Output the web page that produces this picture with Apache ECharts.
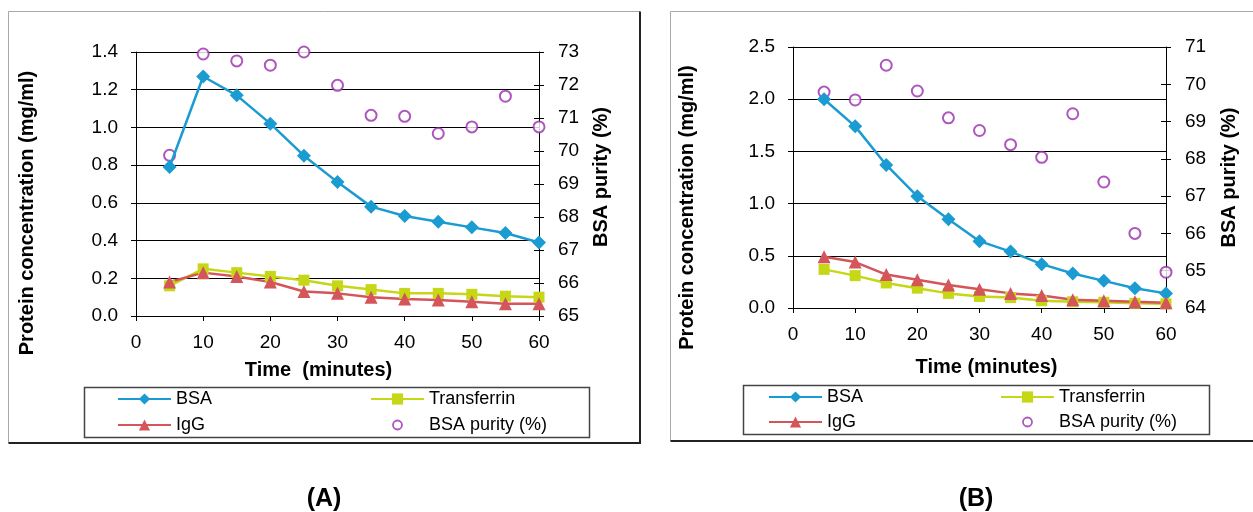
<!DOCTYPE html>
<html>
<head>
<meta charset="utf-8">
<script src="https://cdn.jsdelivr.net/npm/echarts@6/dist/echarts.min.js"></script>
<style>
  html, body { margin: 0; padding: 0; background: #fff; }
  #chart { width: 1253px; height: 512px; }
</style>
</head>
<body>
<div id="chart"></div>
<script>
// sampling times (minutes)
const times = [5, 10, 15, 20, 25, 30, 35, 40, 45, 50, 55, 60];

// panel A
const bsaA = [0.79, 1.27, 1.17, 1.02, 0.85, 0.71, 0.58, 0.53, 0.50, 0.47, 0.44, 0.39];
const transferrinA = [0.16, 0.25, 0.23, 0.21, 0.19, 0.16, 0.14, 0.12, 0.12, 0.115, 0.105, 0.10];
const iggA = [0.18, 0.23, 0.21, 0.18, 0.13, 0.12, 0.10, 0.09, 0.085, 0.075, 0.065, 0.065];
const purityA = [69.87, 72.94, 72.73, 72.6, 73.0, 71.99, 71.08, 71.05, 70.53, 70.73, 71.66, 70.73];

// panel B
const bsaB = [2.0, 1.74, 1.37, 1.07, 0.85, 0.64, 0.54, 0.42, 0.33, 0.26, 0.19, 0.14];
const transferrinB = [0.37, 0.31, 0.24, 0.19, 0.14, 0.11, 0.10, 0.07, 0.06, 0.055, 0.045, 0.04];
const iggB = [0.49, 0.44, 0.32, 0.27, 0.22, 0.18, 0.14, 0.12, 0.08, 0.07, 0.06, 0.05];
const purityB = [69.79, 69.58, 70.51, 69.82, 69.1, 68.76, 68.38, 68.04, 69.21, 67.38, 66.0, 64.96];

const FONT = '"Liberation Sans", Arial, sans-serif';
const COLORS = { bsa: '#1a9bd1', transferrin: '#c5d715', igg: '#d4555a', purity: '#9a2cae' };
// small ring inside an empty 14x14 box, so the legend marker stays small
const SMALL_RING = 'path://M0,0L0,0M14,14L14,14M11.5,7A4.5,4.5,0,1,1,2.5,7A4.5,4.5,0,1,1,11.5,7Z';

const pairs = (ys) => times.map((t, i) => [t, ys[i]]);

function xAxis(grid, title, pad) {
  return {
    type: 'value', gridIndex: grid, min: 0, max: 60, interval: 10,
    name: title, nameLocation: 'middle', nameGap: grid === 0 ? 44 : 49,
    nameTextStyle: { fontFamily: FONT, fontSize: 20, fontWeight: 'bold', color: '#000', padding: pad },
    axisLine: { onZero: false, lineStyle: { color: '#000', width: 1 } },
    axisTick: { length: 5, lineStyle: { color: '#000' } },
    axisLabel: { fontFamily: FONT, fontSize: 19, color: '#000', margin: 17 },
    splitLine: { show: false }
  };
}

function leftAxis(grid, max, step, gap, pad) {
  return {
    type: 'value', gridIndex: grid, position: 'left', min: 0, max: max, interval: step,
    name: 'Protein concentration (mg/ml)', nameLocation: 'middle', nameGap: gap,
    nameTextStyle: { fontFamily: FONT, fontSize: 20, fontWeight: 'bold', color: '#000', padding: pad },
    axisLine: { show: true, onZero: false, lineStyle: { color: '#000', width: 1 } },
    axisTick: { show: true, length: 5, lineStyle: { color: '#000' } },
    axisLabel: { fontFamily: FONT, fontSize: 19, color: '#000', margin: 18, formatter: (v) => v.toFixed(1) },
    splitLine: { show: true, lineStyle: { color: '#000', width: 1 } }
  };
}

function rightAxis(grid, min, max, gap, pad) {
  return {
    type: 'value', gridIndex: grid, position: 'right', min: min, max: max, interval: 1,
    name: 'BSA purity (%)', nameLocation: 'middle', nameGap: gap,
    nameTextStyle: { fontFamily: FONT, fontSize: 20, fontWeight: 'bold', color: '#000', padding: pad },
    axisLine: { show: true, onZero: false, lineStyle: { color: '#000', width: 1 } },
    axisTick: { show: true, length: 5, lineStyle: { color: '#000' } },
    axisLabel: { fontFamily: FONT, fontSize: 19, color: '#000', margin: 19 },
    splitLine: { show: false }
  };
}

// second right axis only to draw the inner half of the crossing ticks
function rightInnerTicks(grid, min, max) {
  return {
    type: 'value', gridIndex: grid, position: 'right', min: min, max: max, interval: 1,
    axisLine: { show: false, onZero: false },
    axisTick: { show: true, inside: true, length: 5, lineStyle: { color: '#000' } },
    axisLabel: { show: false },
    splitLine: { show: false }
  };
}

function lineSeries(name, data, xi, yi, color, symbol, size) {
  return {
    name: name, type: 'line', xAxisIndex: xi, yAxisIndex: yi, data: pairs(data),
    symbol: symbol, symbolSize: size, clip: false,
    lineStyle: { color: color, width: 2.5 },
    itemStyle: { color: color }
  };
}

function purityScatter(data, xi, yi) {
  return {
    name: 'BSA purity (%)', type: 'scatter', xAxisIndex: xi, yAxisIndex: yi, data: pairs(data),
    symbol: 'emptyCircle', symbolSize: 11, clip: false,
    itemStyle: { color: COLORS.purity, borderColor: COLORS.purity, borderWidth: 1.8 }
  };
}

function legendCol(names, left, top, gap) {
  return {
    orient: 'vertical', left: left, top: top, padding: 0,
    itemWidth: 53, itemHeight: 14, itemGap: gap,
    data: names.map((n) => n === 'BSA purity (%)'
      ? { name: n, icon: SMALL_RING, itemStyle: { color: 'rgba(0,0,0,0)', borderColor: COLORS.purity, borderWidth: 1.8 } }
      : n),
    textStyle: { fontFamily: FONT, fontSize: 18, color: '#000', lineHeight: 18 }
  };
}

function frame(x0, y0, x1, y1) {
  return [
    { type: 'polyline', shape: { points: [[x0, y1], [x0, y0], [x1, y0]] },
      style: { stroke: '#a8a8a8', lineWidth: 1, fill: null } },
    { type: 'polyline', shape: { points: [[x1, y0], [x1, y1], [x0, y1]] },
      style: { stroke: '#222', lineWidth: 2, fill: null } }
  ];
}

const chart = echarts.init(document.getElementById('chart'), null, { renderer: 'canvas' });

const option = {
  backgroundColor: '#fff',
  animation: false,
  grid: [
    { left: 136, top: 52, width: 403, height: 264 },
    { left: 793, top: 47, width: 373, height: 261 }
  ],
  xAxis: [
    xAxis(0, 'Time  (minutes)', [0, 38, 0, 0]),
    xAxis(1, 'Time (minutes)', [0, 0, 0, 14])
  ],
  yAxis: [
    leftAxis(0, 1.4, 0.2, 99, [0, 58, 0, 0]),
    rightAxis(0, 65, 73, 52, [0, 0, 0, 14]),
    leftAxis(1, 2.5, 0.5, 96, [0, 60, 0, 0]),
    rightAxis(1, 64, 71, 53, [0, 0, 0, 0]),
    rightInnerTicks(0, 65, 73),
    rightInnerTicks(1, 64, 71)
  ],
  legend: [
    legendCol(['BSA', 'IgG'], 117, 390, 8),
    legendCol(['Transferrin', 'BSA purity (%)'], 370, 390, 8),
    legendCol(['BSA', 'IgG'], 768, 388, 7),
    legendCol(['Transferrin', 'BSA purity (%)'], 1000, 388, 7)
  ],
  graphic: [
    ...frame(8.5, 11.5, 640, 443),
    ...frame(670.5, 11.5, 1262, 441),
    { type: 'rect', shape: { x: 84.5, y: 387.5, width: 505, height: 50 },
      style: { stroke: '#444', lineWidth: 1.5, fill: null } },
    { type: 'rect', shape: { x: 743.5, y: 385.5, width: 466, height: 49 },
      style: { stroke: '#444', lineWidth: 1.5, fill: null } },
    { type: 'text', x: 324, y: 499,
      style: { text: '(A)', fontFamily: FONT, fontSize: 25, fontWeight: 'bold', fill: '#000', align: 'center', verticalAlign: 'middle' } },
    { type: 'text', x: 976, y: 499,
      style: { text: '(B)', fontFamily: FONT, fontSize: 25, fontWeight: 'bold', fill: '#000', align: 'center', verticalAlign: 'middle' } }
  ],
  series: [
    lineSeries('BSA', bsaA, 0, 0, COLORS.bsa, 'diamond', 14),
    lineSeries('Transferrin', transferrinA, 0, 0, COLORS.transferrin, 'rect', 11),
    lineSeries('IgG', iggA, 0, 0, COLORS.igg, 'triangle', 13),
    purityScatter(purityA, 0, 1),
    lineSeries('BSA', bsaB, 1, 2, COLORS.bsa, 'diamond', 14),
    lineSeries('Transferrin', transferrinB, 1, 2, COLORS.transferrin, 'rect', 11),
    lineSeries('IgG', iggB, 1, 2, COLORS.igg, 'triangle', 13),
    purityScatter(purityB, 1, 3)
  ]
};

chart.setOption(option);
</script>
</body>
</html>
